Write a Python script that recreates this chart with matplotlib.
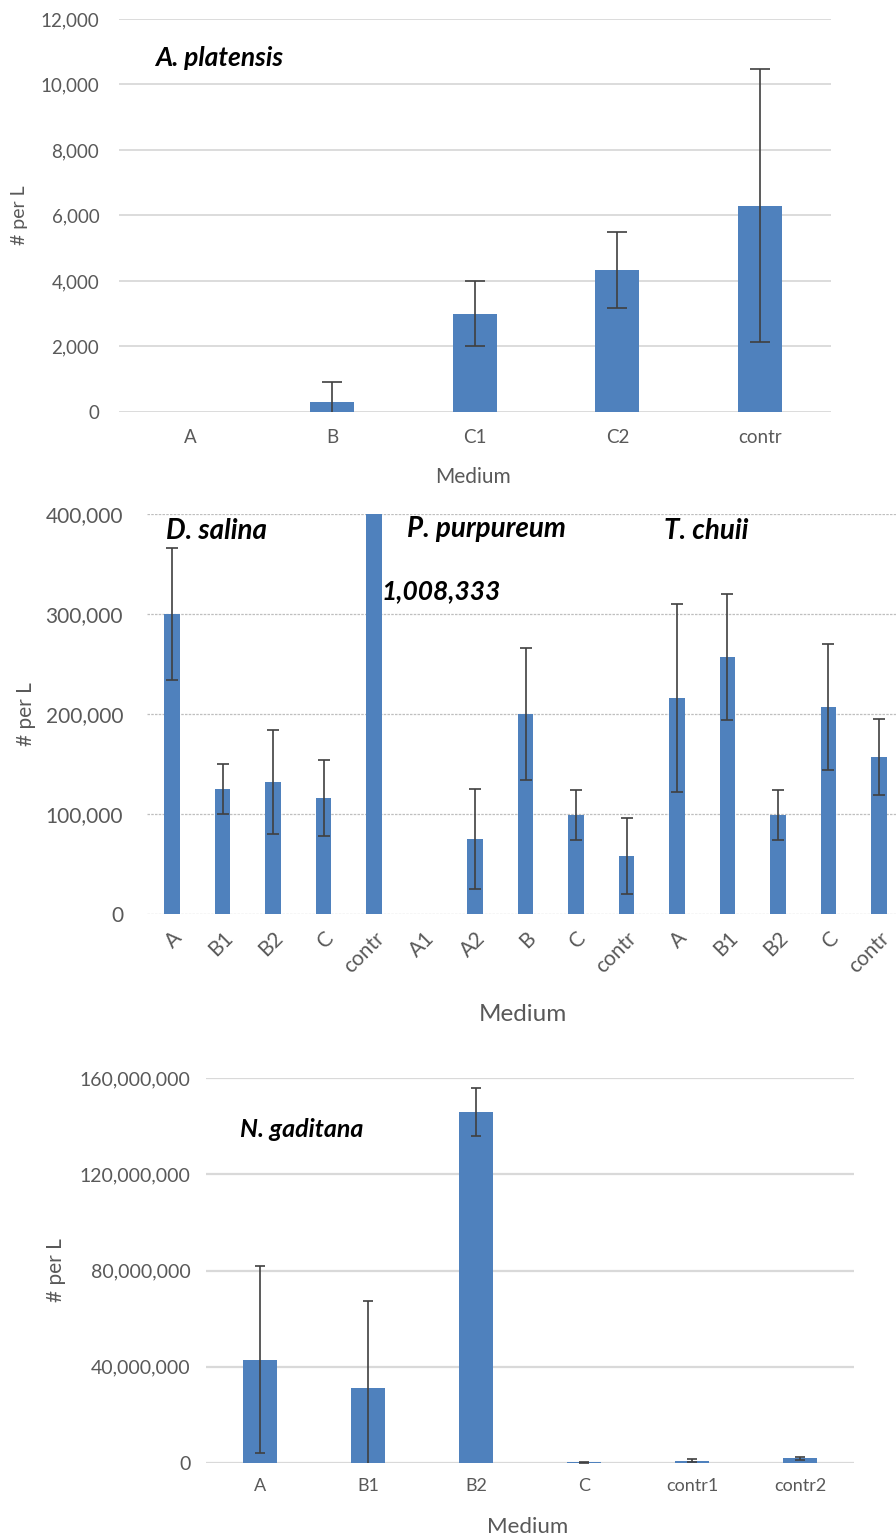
"""Cell counts per medium for four microalgae, three stacked bar panels."""

import matplotlib

matplotlib.use("Agg")

import matplotlib.pyplot as plt
from matplotlib.ticker import FuncFormatter

BAR_COLOR = "#4F81BD"
TEXT_GREY = "#595959"
ERR_COLOR = "#404040"
FONTS = ["Lato", "DejaVu Sans"]

# panel 1: A. platensis
platensis_media = ["A", "B", "C1", "C2", "contr"]
platensis_mean = [0, 300, 3000, 4333, 6300]
platensis_err = [0, 600, 1000, 1170, 4170]

# panel 2: three species share one axis
salina_media = ["A", "B1", "B2", "C", "contr"]
salina_mean = [300000, 125000, 132000, 116000, 1008333]
salina_err = [66000, 25000, 52000, 38000, 0]

purpureum_media = ["A1", "A2", "B", "C", "contr"]
purpureum_mean = [0, 75000, 200000, 99000, 58000]
purpureum_err = [0, 50000, 66000, 25000, 38000]

chuii_media = ["A", "B1", "B2", "C", "contr"]
chuii_mean = [216000, 257000, 99000, 207000, 157000]
chuii_err = [94000, 63000, 25000, 63000, 38000]

# panel 3: N. gaditana
gaditana_media = ["A", "B1", "B2", "C", "contr1", "contr2"]
gaditana_mean = [43000000, 31000000, 146000000, 300000, 1000000, 2000000]
gaditana_err = [39000000, 36500000, 10000000, 300000, 600000, 600000]

comma_fmt = FuncFormatter(lambda v, _: f"{v:,.0f}")


def bar_panel(ax, means, errs, width, capsize):
    xs = list(range(len(means)))
    ax.bar(xs, means, width=width, color=BAR_COLOR, zorder=2)
    ex = [x for x, e in zip(xs, errs) if e > 0]
    ey = [m for m, e in zip(means, errs) if e > 0]
    ee = [e for e in errs if e > 0]
    ax.errorbar(ex, ey, yerr=ee, fmt="none", ecolor=ERR_COLOR, elinewidth=1.2,
                capsize=capsize, capthick=1.2, zorder=3)
    ax.set_xlim(-0.5, len(means) - 0.5)
    for s in ax.spines.values():
        s.set_visible(False)
    ax.tick_params(length=0, colors=TEXT_GREY)
    ax.yaxis.set_major_formatter(comma_fmt)
    ax.set_axisbelow(True)
    for lab in ax.get_xticklabels() + ax.get_yticklabels():
        lab.set_family(FONTS)


title_kw = dict(fontweight="bold", style="italic", va="center", ha="left", family=FONTS)
label_kw = dict(color=TEXT_GREY, family=FONTS)

fig = plt.figure(figsize=(8.96, 15.4), dpi=100)

# ---- top panel
ax1 = fig.add_axes([0.1325, 0.7325, 0.795, 0.2552])
ax1.set_ylim(0, 12000)
ax1.set_yticks(range(0, 12001, 2000))
ax1.set_xticks(range(len(platensis_media)))
ax1.set_xticklabels(platensis_media)
ax1.tick_params(labelsize=13.5)
ax1.tick_params(axis="y", pad=14)
ax1.tick_params(axis="x", pad=12)
ax1.grid(axis="y", color="#D9D9D9", linewidth=1.3)
bar_panel(ax1, platensis_mean, platensis_err, 0.31, 7)
ax1.set_xlabel("Medium", fontsize=15, **label_kw)
ax1.xaxis.set_label_coords(0.497, -0.14)
ax1.set_ylabel("# per L", fontsize=14, **label_kw)
ax1.yaxis.set_label_coords(-0.127, 0.5)
ax1.text(-0.246, 10809, "A. platensis", fontsize=19, **title_kw)

# ---- middle panel
mid_media = salina_media + purpureum_media + chuii_media
mid_mean = salina_mean + purpureum_mean + chuii_mean
mid_err = salina_err + purpureum_err + chuii_err

ax2 = fig.add_axes([0.1638, 0.40649, 0.8454, 0.2597])
ax2.set_ylim(0, 400000)
ax2.set_yticks(range(0, 400001, 100000))
ax2.set_xticks(range(len(mid_media)))
ax2.set_xticklabels(mid_media, rotation=45, ha="right", rotation_mode="anchor")
ax2.tick_params(labelsize=15)
ax2.tick_params(axis="y", pad=17)
ax2.tick_params(axis="x", pad=10)
ax2.grid(axis="y", color="#BFBFBF", linewidth=0.9, linestyle=(0, (2, 1)))
bar_panel(ax2, mid_mean, mid_err, 0.31, 4.5)
ax2.set_xlabel("Medium", fontsize=17.5, **label_kw)
ax2.xaxis.set_label_coords(0.497, -0.225)
ax2.set_ylabel("# per L", fontsize=15, **label_kw)
ax2.yaxis.set_label_coords(-0.146, 0.5)
ax2.text(-0.12, 383000, "D. salina", fontsize=20, **title_kw)
ax2.text(4.65, 385000, "P. purpureum", fontsize=20, **title_kw)
ax2.text(9.74, 383000, "T. chuii", fontsize=20, **title_kw)
ax2.text(4.15, 323000, f"{salina_mean[4]:,}", fontsize=19, **title_kw)

# ---- bottom panel
ax3 = fig.add_axes([0.2299, 0.05, 0.7232, 0.25])
ax3.set_ylim(0, 160000000)
ax3.set_yticks(range(0, 160000001, 40000000))
ax3.set_xticks(range(len(gaditana_media)))
ax3.set_xticklabels(gaditana_media)
ax3.tick_params(axis="y", labelsize=14, pad=11)
ax3.tick_params(axis="x", labelsize=13, pad=11)
ax3.grid(axis="y", color="#D9D9D9", linewidth=1.6)
bar_panel(ax3, gaditana_mean, gaditana_err, 0.32, 3.5)
ax3.set_xlabel("Medium", fontsize=16, **label_kw)
ax3.xaxis.set_label_coords(0.497, -0.14)
ax3.set_ylabel("# per L", fontsize=15, **label_kw)
ax3.yaxis.set_label_coords(-0.216, 0.5)
ax3.text(-0.185, 138400000, "N. gaditana", fontsize=18, **title_kw)

fig.savefig("out.png", dpi=100)
